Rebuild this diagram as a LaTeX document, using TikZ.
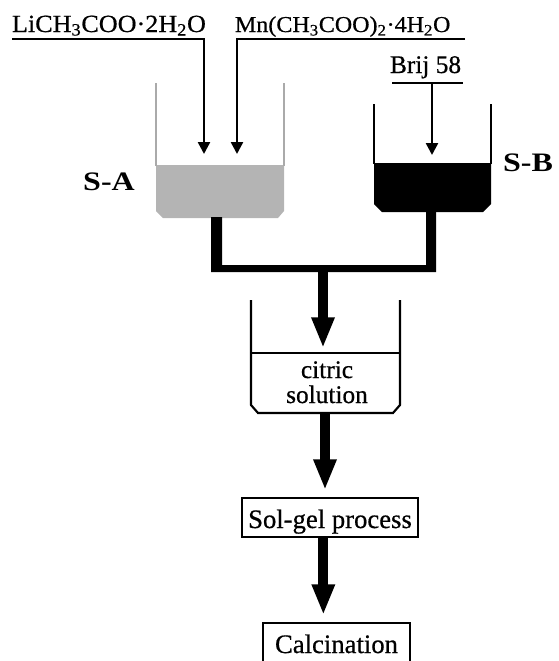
\documentclass[tikz,border=0pt]{standalone}
\usepackage{fontspec}
\setmainfont[FakeBold=0.6]{Liberation Serif}
\newfontfamily\widefont[FakeStretch=1.06,FakeBold=0.6]{Liberation Serif}
\newfontfamily\labfont[FakeStretch=1.2]{Liberation Serif}
\usetikzlibrary{arrows.meta}
\definecolor{liqA}{RGB}{180,180,180}
\definecolor{wallA}{RGB}{170,170,170}
\begin{document}
\begin{tikzpicture}[x=0.75pt,y=-0.75pt,
  txt/.style={inner sep=0pt,outer sep=0pt},
  feedline/.style={line width=1.9pt},
  feed/.style={line width=1.9pt,-{Triangle[length=9pt,width=9pt]}},
  bigarrow/.style={line width=7.5pt,-{Triangle[length=23pt,width=16pt]}},
  procbox/.style={draw,line width=2pt,inner sep=0pt,outer sep=0pt,
    font=\fontsize{20pt}{24pt}\selectfont}
]
\useasboundingbox (0,0) rectangle (558,661);
\clip (0,0) rectangle (558,661);

% top labels
\node[txt,anchor=base west,font=\widefont\fontsize{18.5pt}{20pt}\selectfont] (li) at (12,32) {LiCH\textsubscript{3}COO·2H\textsubscript{2}O};
\node[txt,anchor=base west,font=\widefont\fontsize{17pt}{20pt}\selectfont] (mn) at (235,32) {Mn(CH\textsubscript{3}COO)\textsubscript{2}·4H\textsubscript{2}O};
\node[txt,anchor=base west,font=\fontsize{19pt}{22pt}\selectfont] (brij) at (390,73) {Brij 58};

\coordinate (liL) at (12,39);
\coordinate (liR) at (204,39);
\coordinate (liT) at (204,154);
\coordinate (mnL) at (237,39);
\coordinate (mnR) at (465,39);
\coordinate (mnT) at (237,154);
\coordinate (brL) at (392,83);
\coordinate (brR) at (463,83);
\coordinate (brM) at (432,83);
\coordinate (brT) at (432,155);

\draw[feed] (liL) -- (liR) -- (liT);
\draw[feed] (mnR) -- (mnL) -- (mnT);
\draw[feedline] (brL) -- (brR);
\draw[feed] (brM) -- (brT);

% beaker A
\fill[liqA] (156,165) -- (284,165) -- (284,211) -- (278,218) -- (163,218) -- (156,211) -- cycle;
\draw[wallA,line width=1.6pt] (156,83) -- (156,166);
\draw[wallA,line width=1.6pt] (284,83) -- (284,166);
\node[txt,anchor=base,font=\labfont\bfseries\fontsize{20pt}{24pt}\selectfont] (sa) at (109,190) {S-A};

% beaker B
\fill[black] (374,163) -- (491,163) -- (491,204) -- (483,212) -- (382,212) -- (374,204) -- cycle;
\draw[line width=1.6pt] (374,104) -- (374,164);
\draw[line width=1.6pt] (491,104) -- (491,164);
\node[txt,anchor=base,font=\labfont\bfseries\fontsize{20pt}{24pt}\selectfont] (sb) at (528,171) {S-B};

% pipes
\fill[black] (211,217) -- (211,272) -- (436,272) -- (436,211) -- (426,211) -- (426,265) -- (222,265) -- (222,217) -- cycle;
\coordinate (join) at (323,266);
\coordinate (citT) at (323,348);
\draw[bigarrow] (join) -- (citT);

% citric beaker
\draw[line width=1.6pt] (251,300) -- (251,405) -- (258,413) -- (393,413) -- (400,405) -- (400,300);
\draw[line width=1.2pt] (251,353) -- (400,353);
\node[txt,anchor=base,font=\fontsize{19pt}{22pt}\selectfont] (cit1) at (327,378) {citric};
\node[txt,anchor=base,font=\fontsize{19pt}{22pt}\selectfont] (cit2) at (327,403) {solution};
\coordinate (citB) at (325,412);

% process boxes
\node[procbox,anchor=north,minimum width=132pt,text height=22.5pt,text depth=6.75pt] (solgel) at (330,498) {Sol-gel process};
\node[procbox,anchor=north,minimum width=110.25pt,text height=22.5pt,text depth=12pt] (calc) at (336.5,623) {Calcination};

\draw[bigarrow,shorten >=6pt] (citB) -- (citB |- solgel.north);
\draw[bigarrow,shorten >=6pt] ([xshift=-5pt]solgel.south) -- ([xshift=-5pt]solgel.south |- calc.north);
\end{tikzpicture}
\end{document}
